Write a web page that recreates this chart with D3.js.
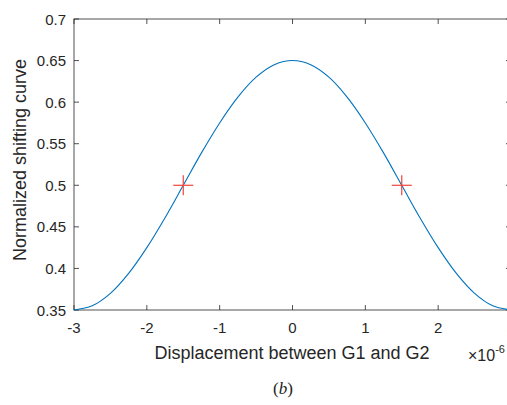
<!DOCTYPE html>
<html><head><meta charset="utf-8">
<script src="https://cdn.jsdelivr.net/npm/d3@7"></script>
<style>body{margin:0;background:#fff;}svg{display:block;}</style>
</head><body>
<svg id="c" width="507" height="405"></svg>
<script>
const xVals = [-3,-2.75,-2.5,-2.25,-2,-1.75,-1.5,-1.25,-1,-0.75,-0.5,-0.25,0,0.25,0.5,0.75,1,1.25,1.5,1.75,2,2.25,2.5,2.75,3];
const yVals = [0.35,0.355,0.370,0.394,0.425,0.461,0.5,0.539,0.575,0.606,0.630,0.645,0.65,0.645,0.630,0.606,0.575,0.539,0.5,0.461,0.425,0.394,0.370,0.355,0.35];
const markerX = [-1.5, 1.5];
const markerY = [0.5, 0.5];
const xTicks = [-3,-2,-1,0,1,2,3];
const yTicks = [0.35,0.4,0.45,0.5,0.55,0.6,0.65,0.7];

const svg = d3.select("#c");
const L = 74, R = 511, T = 19, B = 310;
const x = d3.scaleLinear().domain([-3,3]).range([L,R]);
const y = d3.scaleLinear().domain([0.35,0.7]).range([B,T]);
const font = "Arial, 'Liberation Sans', Helvetica, sans-serif";
const axisCol = "#262626";

// box
svg.append("rect").attr("x",L).attr("y",T).attr("width",R-L).attr("height",B-T)
  .attr("fill","none").attr("stroke",axisCol).attr("stroke-width",0.8);

// ticks (inward)
const tl = 5;
xTicks.forEach(t=>{
  svg.append("line").attr("x1",x(t)).attr("x2",x(t)).attr("y1",B).attr("y2",B-tl).attr("stroke",axisCol).attr("stroke-width",0.8);
  svg.append("line").attr("x1",x(t)).attr("x2",x(t)).attr("y1",T).attr("y2",T+tl).attr("stroke",axisCol).attr("stroke-width",0.8);
  svg.append("text").attr("x",x(t)).attr("y",B+23).attr("text-anchor","middle")
    .attr("font-family",font).attr("font-size",15).attr("fill",axisCol).text(t);
});
yTicks.forEach(t=>{
  svg.append("line").attr("x1",L).attr("x2",L+tl).attr("y1",y(t)).attr("y2",y(t)).attr("stroke",axisCol).attr("stroke-width",0.8);
  svg.append("line").attr("x1",R).attr("x2",R-tl).attr("y1",y(t)).attr("y2",y(t)).attr("stroke",axisCol).attr("stroke-width",0.8);
  svg.append("text").attr("x",L-8).attr("y",y(t)+5.5).attr("text-anchor","end")
    .attr("font-family",font).attr("font-size",15).attr("fill",axisCol).text(d3.format("")(t));
});

// curve
const line = d3.line().x((d,i)=>x(xVals[i])).y((d,i)=>y(yVals[i])).curve(d3.curveCatmullRom);
svg.append("path").datum(yVals).attr("d",line).attr("fill","none")
  .attr("stroke","#0072BD").attr("stroke-width",1.1);

// markers
const ms = 10;
markerX.forEach((mx,i)=>{
  const cx = x(mx), cy = y(markerY[i]);
  svg.append("line").attr("x1",cx-ms).attr("x2",cx+ms).attr("y1",cy).attr("y2",cy).attr("stroke","#f0443a").attr("stroke-width",1.2);
  svg.append("line").attr("x1",cx).attr("x2",cx).attr("y1",cy-ms).attr("y2",cy+ms).attr("stroke","#f0443a").attr("stroke-width",1.2);
});

// labels
svg.append("text").attr("x",292).attr("y",359).attr("text-anchor","middle")
  .attr("font-family",font).attr("font-size",18).attr("fill",axisCol).text("Displacement between G1 and G2");
svg.append("text").attr("transform","translate(26,160) rotate(-90)").attr("text-anchor","middle")
  .attr("font-family",font).attr("font-size",18).attr("fill",axisCol).text("Normalized shifting curve");
const ex = svg.append("text").attr("x",468).attr("y",361).attr("font-family",font).attr("font-size",16).attr("fill",axisCol);
ex.append("tspan").text("\u00D710");
ex.append("tspan").attr("dy",-8).attr("font-size",11).text("-6");
svg.append("text").attr("x",283).attr("y",394).attr("text-anchor","middle")
  .attr("font-family","'Liberation Serif','Times New Roman',serif").attr("font-size",17).attr("fill","#222")
  .html("(<tspan font-style='italic'>b</tspan>)");
</script>
</body></html>
